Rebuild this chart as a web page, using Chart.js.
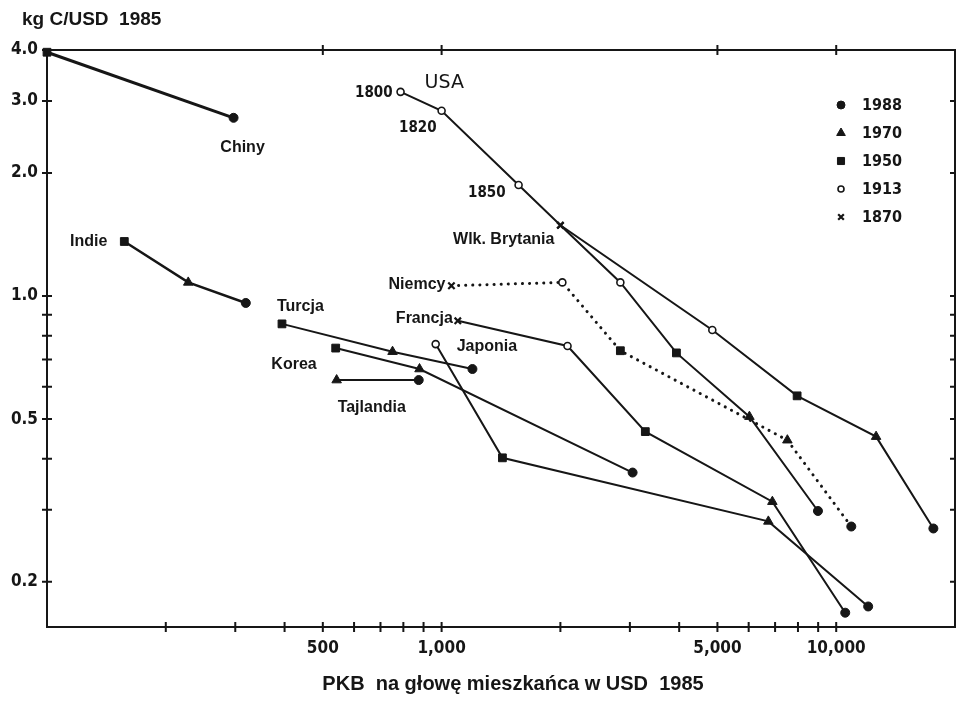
<!DOCTYPE html>
<html>
<head>
<meta charset="utf-8">
<script src="https://cdn.jsdelivr.net/npm/chart.js@4.4.0/dist/chart.umd.min.js"></script>
<style>
  html, body { margin: 0; padding: 0; background: #fff; }
  #wrap { width: 956px; height: 702px; }
</style>
</head>
<body>
<div id="wrap"><canvas id="chart" width="956" height="702"></canvas></div>
<script>
// axes: GDP per capita (USD 1985) vs carbon intensity (kg C / USD), both log
const xTicks = [200, 300, 400, 500, 600, 700, 800, 900, 1000, 2000, 3000, 4000, 5000, 6000, 7000, 8000, 9000, 10000];
const xTickLabels = { 500: '500', 1000: '1,000', 5000: '5,000', 10000: '10,000' };
const yTicks = [0.2, 0.3, 0.4, 0.5, 0.6, 0.7, 0.8, 0.9, 1, 2, 3, 4];
const yTickLabels = { 0.2: '0.2', 0.5: '0.5', 1: '1.0', 2: '2.0', 3: '3.0', 4: '4.0' };
const legendYears = [1988, 1970, 1950, 1913, 1870];

// series: year, GDP per capita, kg C per USD
const chinyYears = [1950, 1988];
const chinyGdp = [100, 297];
const chinyInt = [3.95, 2.73];

const indieYears = [1950, 1970, 1988];
const indieGdp = [157, 228, 319];
const indieInt = [1.36, 1.08, 0.962];

const turcjaYears = [1950, 1970, 1988];
const turcjaGdp = [394, 751, 1197];
const turcjaInt = [0.855, 0.731, 0.663];

const koreaYears = [1950, 1970, 1988];
const koreaGdp = [539, 879, 3048];
const koreaInt = [0.746, 0.663, 0.370];

const tajlandiaYears = [1970, 1988];
const tajlandiaGdp = [542, 875];
const tajlandiaInt = [0.623, 0.623];

const japoniaYears = [1913, 1950, 1970, 1988];
const japoniaGdp = [966, 1426, 6730, 12050];
const japoniaInt = [0.763, 0.402, 0.281, 0.174];

const francjaYears = [1870, 1913, 1950, 1970, 1988];
const francjaGdp = [1099, 2085, 3283, 6890, 10540];
const francjaInt = [0.870, 0.755, 0.466, 0.314, 0.168];

const niemcyYears = [1870, 1913, 1950, 1970, 1988];
const niemcyGdp = [1059, 2023, 2838, 7520, 10920];
const niemcyInt = [1.06, 1.08, 0.735, 0.444, 0.273];

const ukYears = [1870, 1913, 1950, 1970, 1988];
const ukGdp = [2000, 2838, 3936, 6026, 8990];
const ukInt = [1.49, 1.08, 0.726, 0.507, 0.298];

const usaYears = [1800, 1820, 1850, 1870, 1913, 1950, 1970, 1988];
const usaGdp = [787, 1000, 1567, 2000, 4853, 7960, 12620, 17630];
const usaInt = [3.16, 2.84, 1.87, 1.49, 0.826, 0.570, 0.453, 0.270];

const INK = '#161616';
const SANS = "'Liberation Sans', Arial, sans-serif";
const NUMS = "'DejaVu Sans Condensed', 'DejaVu Sans', sans-serif";

function markerStyle(year) {
  if (year === 1988) return 'circle';
  if (year === 1970) return 'triangle';
  if (year === 1950) return 'rect';
  if (year === 1870) return 'crossRot';
  return 'circle'; // 1913 and earlier: open
}
function markerRadius(year) {
  if (year === 1988) return 4.5;
  if (year === 1970) return 5.5;
  if (year === 1950) return 5.5;
  if (year === 1870) return 4.5;
  return 3.5;
}
function markerFill(year) {
  return (year === 1913 || year < 1870) ? '#fff' : INK;
}
function markerBorder(year) {
  if (year === 1870) return 2.2;
  if (year === 1913 || year < 1870) return 1.6;
  return 1;
}

function series(name, years, gdp, vals, extra) {
  return Object.assign({
    label: name,
    data: gdp.map((g, i) => ({ x: g, y: vals[i] })),
    showLine: true,
    borderColor: INK,
    borderWidth: 2,
    pointStyle: years.map(markerStyle),
    pointRadius: years.map(markerRadius),
    pointBackgroundColor: years.map(markerFill),
    pointBorderColor: INK,
    pointBorderWidth: years.map(markerBorder),
    clip: false
  }, extra || {});
}

// text next to the markers: dataset, point index, offset in px
const notes = [
  { text: 'Chiny', s: 'Chiny', i: 1, dx: 9, dy: 30, align: 'center' },
  { text: 'Indie', s: 'Indie', i: 0, dx: -17, dy: 0, align: 'right' },
  { text: 'Turcja', s: 'Turcja', i: 0, dx: -5, dy: -17, align: 'left' },
  { text: 'Korea', s: 'Korea', i: 0, dx: -19, dy: 17, align: 'right' },
  { text: 'Tajlandia', s: 'Tajlandia', i: 0, dx: 1, dy: 28, align: 'left' },
  { text: 'Japonia', s: 'Japonia', i: 0, dx: 21, dy: 3, align: 'left' },
  { text: 'Francja', s: 'Francja', i: 0, dx: -5, dy: -2, align: 'right' },
  { text: 'Niemcy', s: 'Niemcy', i: 0, dx: -6, dy: -1, align: 'right' },
  { text: 'Wlk. Brytania', s: 'Wlk. Brytania', i: 0, dx: -6, dy: 14, align: 'right' },
  { text: 'USA', s: 'USA', i: 0, dx: 24, dy: -9, align: 'left', font: "19px 'DejaVu Sans', sans-serif" },
  { text: '1800', s: 'USA', i: 0, dx: -8, dy: 1, align: 'right', font: 'bold 15px ' + NUMS },
  { text: '1820', s: 'USA', i: 1, dx: -5, dy: 17, align: 'right', font: 'bold 15px ' + NUMS },
  { text: '1850', s: 'USA', i: 2, dx: -13, dy: 8, align: 'right', font: 'bold 15px ' + NUMS }
];

const decor = {
  id: 'decor',
  afterDraw(chart) {
    const { ctx, chartArea: a, scales: { x, y } } = chart;
    ctx.save();
    ctx.strokeStyle = INK;
    ctx.lineWidth = 2;
    ctx.beginPath();
    ctx.moveTo(a.left, a.top);
    ctx.lineTo(a.right, a.top);
    ctx.lineTo(a.right, a.bottom);
    ctx.stroke();

    ctx.beginPath();
    y.ticks.forEach(t => {
      const py = y.getPixelForValue(t.value);
      ctx.moveTo(a.left - 5, py); ctx.lineTo(a.left + 5, py);
      ctx.moveTo(a.right - 5, py); ctx.lineTo(a.right, py);
    });
    x.ticks.forEach(t => {
      const px = x.getPixelForValue(t.value);
      ctx.moveTo(px, a.bottom - 5); ctx.lineTo(px, a.bottom + 5);
      if (xTickLabels[t.value]) { ctx.moveTo(px, a.top - 5); ctx.lineTo(px, a.top + 5); }
    });
    ctx.stroke();

    ctx.fillStyle = INK;
    ctx.textBaseline = 'middle';

    // titles
    ctx.font = 'bold 19px ' + SANS;
    ctx.textAlign = 'left';
    ctx.fillText('kg C/USD  1985', 22, 20);
    ctx.font = 'bold 20px ' + SANS;
    ctx.textAlign = 'center';
    ctx.fillText('PKB  na głowę mieszkańca w USD  1985', (a.left + a.right) / 2 + 12, 684);

    // labels at markers
    notes.forEach(n => {
      const di = chart.data.datasets.findIndex(d => d.label === n.s);
      const el = chart.getDatasetMeta(di).data[n.i];
      ctx.font = n.font || 'bold 16px ' + SANS;
      ctx.textAlign = n.align;
      ctx.fillText(n.text, el.x + n.dx, el.y + n.dy);
    });

    // legend of years
    const lx = a.right - 114, ly = a.top + 55;
    legendYears.forEach((yr, k) => {
      const cy = ly + k * 28;
      ctx.fillStyle = markerFill(yr);
      ctx.strokeStyle = INK;
      ctx.lineWidth = markerBorder(yr);
      Chart.helpers.drawPoint(ctx, { pointStyle: markerStyle(yr), radius: markerRadius(yr) - 0.5, rotation: 0, borderWidth: markerBorder(yr) }, lx, cy);
      ctx.fillStyle = INK;
      ctx.font = 'bold 16px ' + NUMS;
      ctx.textAlign = 'left';
      ctx.fillText(String(yr), lx + 21, cy + 1);
    });
    ctx.restore();
  }
};

new Chart(document.getElementById('chart'), {
  type: 'scatter',
  data: {
    datasets: [
      series('Chiny', chinyYears, chinyGdp, chinyInt, { borderWidth: 3 }),
      series('Indie', indieYears, indieGdp, indieInt, { borderWidth: 2.5 }),
      series('Turcja', turcjaYears, turcjaGdp, turcjaInt),
      series('Korea', koreaYears, koreaGdp, koreaInt),
      series('Tajlandia', tajlandiaYears, tajlandiaGdp, tajlandiaInt),
      series('Japonia', japoniaYears, japoniaGdp, japoniaInt),
      series('Francja', francjaYears, francjaGdp, francjaInt),
      series('Niemcy', niemcyYears, niemcyGdp, niemcyInt, { borderWidth: 3, borderDash: [0.1, 7], borderCapStyle: 'round' }),
      series('Wlk. Brytania', ukYears, ukGdp, ukInt),
      series('USA', usaYears, usaGdp, usaInt)
    ]
  },
  options: {
    responsive: false,
    animation: false,
    devicePixelRatio: 1,
    layout: { autoPadding: false, padding: { top: 50, right: 1, left: 0, bottom: 0 } },
    plugins: { legend: { display: false }, tooltip: { enabled: false } },
    scales: {
      x: {
        type: 'logarithmic',
        min: 100,
        max: 20000,
        grid: { display: false, drawTicks: false },
        border: { display: true, width: 2, color: INK },
        afterBuildTicks: s => { s.ticks = xTicks.map(v => ({ value: v })); },
        afterFit: s => { s.height = 75; s.paddingLeft = 0; s.paddingRight = 0; },
        ticks: {
          autoSkip: false, maxRotation: 0, padding: 11, color: INK,
          font: { family: NUMS, weight: 'bold', size: 17 },
          callback: v => xTickLabels[v] || ''
        }
      },
      y: {
        type: 'logarithmic',
        min: 0.155,
        max: 4,
        grid: { display: false, drawTicks: false },
        border: { display: true, width: 2, color: INK },
        afterBuildTicks: s => { s.ticks = yTicks.map(v => ({ value: v })); },
        afterFit: s => { s.width = 47; s.paddingTop = 0; s.paddingBottom = 0; },
        ticks: {
          autoSkip: false, padding: 9, color: INK,
          font: { family: NUMS, weight: 'bold', size: 17 },
          callback: v => yTickLabels[v] || ''
        }
      }
    }
  },
  plugins: [decor]
});
</script>
</body>
</html>
